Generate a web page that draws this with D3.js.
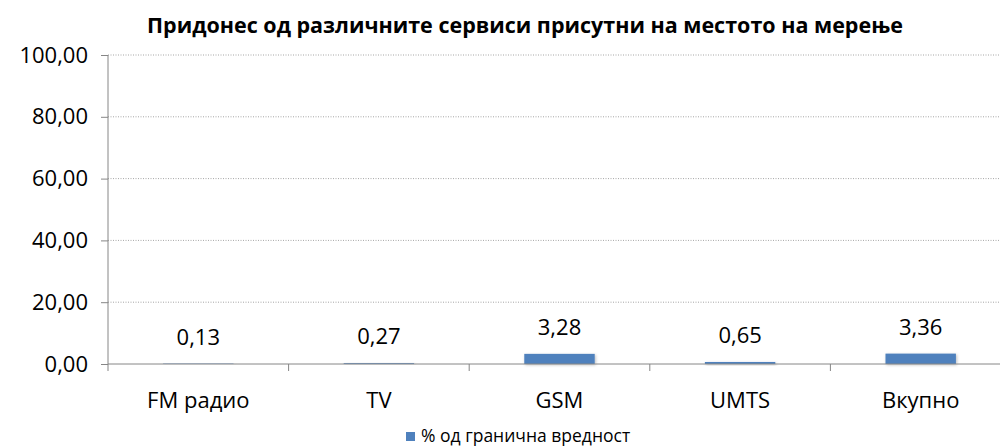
<!DOCTYPE html>
<html lang="mk">
<head>
<meta charset="utf-8">
<title>Придонес</title>
<script src="https://cdn.jsdelivr.net/npm/d3@7"></script>
<style>
  body { margin: 0; background: #fff; }
  svg text { font-family: "Open Sans", sans-serif; fill: #000; }
  .grid line { stroke: #a6a6a6; stroke-dasharray: 1 1.5; }
</style>
</head>
<body>
<div id="chart"></div>
<script>
var categories = ["FM радио", "TV", "GSM", "UMTS", "Вкупно"];
var values = [0.13, 0.27, 3.28, 0.65, 3.36];
var yTicks = [0, 20, 40, 60, 80, 100];
var seriesName = "% од гранична вредност";
var title = "Придонес од различните сервиси присутни на местото на мерење";

var width = 1000, height = 447;
var margin = {top: 55, right: -11, bottom: 83, left: 108};

var svg = d3.select("#chart").append("svg")
    .attr("width", width)
    .attr("height", height);

var defs = svg.append("defs");
var f = defs.append("filter").attr("id", "shadow")
    .attr("x", "-20%").attr("y", "-50%").attr("width", "140%").attr("height", "200%");
f.append("feDropShadow").attr("dx", 1).attr("dy", 1).attr("stdDeviation", 1.5)
    .attr("flood-color", "#000").attr("flood-opacity", 0.25);

var x = d3.scaleBand()
    .domain(categories)
    .range([margin.left, width - margin.right])
    .paddingInner(0.61).paddingOuter(0.305);

var y = d3.scaleLinear()
    .domain([0, 100])
    .range([height - margin.bottom, margin.top]);

var fmt = function (d) { return d3.format(".2f")(d).replace(".", ","); };

// gridlines
svg.append("g").attr("class", "grid")
    .selectAll("line").data(yTicks.filter(function (d) { return d > 0; }))
    .enter().append("line")
    .attr("x1", margin.left).attr("x2", width)
    .attr("y1", function (d) { return y(d); })
    .attr("y2", function (d) { return y(d); });

// bars
svg.append("g").selectAll("rect").data(values)
    .enter().append("rect")
    .attr("x", function (d, i) { return x(categories[i]); })
    .attr("y", function (d) { return y(d); })
    .attr("width", x.bandwidth())
    .attr("height", function (d) { return y(0) - y(d); })
    .attr("fill", "#4f81bd")
    .attr("filter", "url(#shadow)");

// y axis
var yAxis = d3.axisLeft(y).tickValues(yTicks).tickFormat(fmt).tickSize(7).tickPadding(13);
var gy = svg.append("g").attr("transform", "translate(" + margin.left + ",0)").call(yAxis);
gy.select(".domain").remove();
gy.append("line").attr("x1", 0).attr("x2", 0)
    .attr("y1", y(100)).attr("y2", y(0)).attr("stroke", "#868686");
gy.selectAll(".tick line").attr("stroke", "#868686");
gy.selectAll(".tick text").attr("font-size", "22px").attr("fill", "#000")
    .attr("font-family", "'Open Sans', sans-serif");

// x axis
var gx = svg.append("g").attr("transform", "translate(0," + y(0) + ")");
gx.append("line").attr("x1", margin.left).attr("x2", width)
    .attr("y1", 0).attr("y2", 0).attr("stroke", "#868686");
var bounds = d3.range(categories.length + 1).map(function (i) {
  return margin.left + i * x.step();
});
gx.selectAll("line.t").data(bounds).enter().append("line")
    .attr("class", "t")
    .attr("x1", function (d) { return d; }).attr("x2", function (d) { return d; })
    .attr("y1", 0).attr("y2", 7).attr("stroke", "#868686");
gx.selectAll("text").data(categories).enter().append("text")
    .attr("x", function (d) { return x(d) + x.bandwidth() / 2; })
    .attr("y", 44)
    .attr("text-anchor", "middle")
    .attr("font-size", "22px")
    .text(function (d) { return d; });

// data labels
svg.append("g").selectAll("text").data(values)
    .enter().append("text")
    .attr("x", function (d, i) { return x(categories[i]) + x.bandwidth() / 2; })
    .attr("y", function (d) { return y(d) - 19; })
    .attr("text-anchor", "middle")
    .attr("font-size", "22px")
    .text(fmt);

// title
svg.append("text")
    .attr("x", 525).attr("y", 33)
    .attr("text-anchor", "middle")
    .attr("font-size", "21.5px")
    .attr("font-weight", "bold")
    .text(title);

// legend
var lg = svg.append("g").attr("transform", "translate(406,442)");
lg.append("rect").attr("x", 0).attr("y", -10).attr("width", 9).attr("height", 9).attr("fill", "#4f81bd");
lg.append("text").attr("x", 15).attr("y", 0).attr("font-size", "17.5px").text(seriesName);
</script>
</body>
</html>
